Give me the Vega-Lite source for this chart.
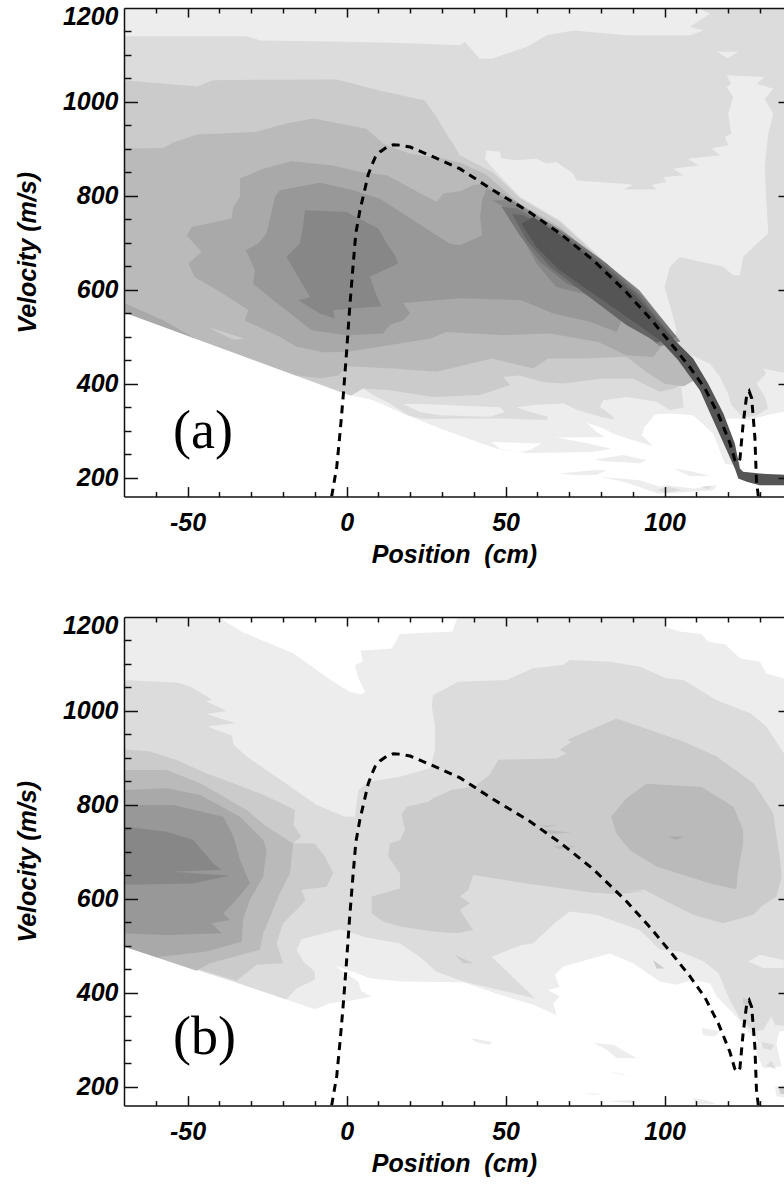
{"$schema":"https://vega.github.io/schema/vega-lite/v6.json","background":"white","padding":{"left":15,"top":4,"right":0,"bottom":0},"spacing":45,"config":{"view":{"stroke":null},"axis":{"labelFont":"Liberation Sans","labelFontStyle":"italic","labelFontWeight":"bold","labelFontSize":25,"labelColor":"black","titleFont":"Liberation Sans","titleFontStyle":"italic","titleFontWeight":"bold","titleFontSize":25,"titleColor":"black","grid":false,"tickColor":"#111","tickWidth":1.5,"domainColor":"#111","domainWidth":1.5,"labelOverlap":false}},
"datasets":{
"axisrow":[{"x":0,"v":1200}],
"curve":[{"x":-4.7,"v":160},{"x":-3.1,"v":223},{"x":-2,"v":300},{"x":-1,"v":379},{"x":0,"v":468},{"x":1,"v":564},{"x":1.9,"v":640},{"x":2.9,"v":720},{"x":4.2,"v":769.5},{"x":5.8,"v":815.6},{"x":6.8,"v":845},{"x":7.9,"v":865},{"x":9,"v":882},{"x":10.5,"v":893.6},{"x":12.5,"v":903},{"x":14.7,"v":909},{"x":17,"v":908},{"x":20,"v":904},{"x":27.3,"v":883},{"x":35.6,"v":858},{"x":46.1,"v":812},{"x":57,"v":768},{"x":67.1,"v":720},{"x":77.6,"v":663},{"x":88,"v":595},{"x":96,"v":535},{"x":102.7,"v":480},{"x":108,"v":435},{"x":112.7,"v":390},{"x":116.9,"v":335},{"x":120.5,"v":275},{"x":122.1,"v":238},{"x":123,"v":232},{"x":123.7,"v":240},{"x":124.7,"v":314},{"x":125.8,"v":374.5},{"x":126.6,"v":384},{"x":127.4,"v":369.5},{"x":128.4,"v":286},{"x":128.9,"v":194},{"x":129.5,"v":160}],
"a":[
{"p":1,"c":1,"x":-70,"v":1200},{"p":1,"c":1,"x":140,"v":1200},{"p":1,"c":1,"x":140,"v":344},{"p":1,"c":1,"x":132,"v":333},{"p":1,"c":1,"x":126.8,"v":323},{"p":1,"c":1,"x":122.6,"v":326},{"p":1,"c":1,"x":119,"v":325},{"p":1,"c":1,"x":124,"v":225},{"p":1,"c":1,"x":119,"v":230},{"p":1,"c":1,"x":115.3,"v":294},{"p":1,"c":1,"x":109,"v":333},{"p":1,"c":1,"x":101.7,"v":337},{"p":1,"c":1,"x":97,"v":335},{"p":1,"c":1,"x":93.8,"v":308.5},{"p":1,"c":1,"x":92.8,"v":291},{"p":1,"c":1,"x":96.4,"v":267},{"p":1,"c":1,"x":90.1,"v":280},{"p":1,"c":1,"x":83.9,"v":294},{"p":1,"c":1,"x":80.7,"v":305},{"p":1,"c":1,"x":75.5,"v":317},{"p":1,"c":1,"x":78.6,"v":298},{"p":1,"c":1,"x":81.2,"v":287},{"p":1,"c":1,"x":66,"v":286},{"p":1,"c":1,"x":73.4,"v":277},{"p":1,"c":1,"x":83.3,"v":262},{"p":1,"c":1,"x":77.6,"v":255},{"p":1,"c":1,"x":56.6,"v":253},{"p":1,"c":1,"x":47.2,"v":262},{"p":1,"c":1,"x":41.9,"v":274},{"p":1,"c":1,"x":29.3,"v":305},{"p":1,"c":1,"x":18.9,"v":333},{"p":1,"c":1,"x":8.4,"v":365},{"p":1,"c":1,"x":0,"v":378},{"p":1,"c":1,"x":-70,"v":550},
{"p":2,"c":2,"x":-70,"v":1140},{"p":2,"c":2,"x":-31.4,"v":1140},{"p":2,"c":2,"x":-27,"v":1131},{"p":2,"c":2,"x":0,"v":1128},{"p":2,"c":2,"x":20,"v":1125},{"p":2,"c":2,"x":35.6,"v":1120.6},{"p":2,"c":2,"x":37.2,"v":1127.7},{"p":2,"c":2,"x":41.9,"v":1092},{"p":2,"c":2,"x":45.6,"v":1092},{"p":2,"c":2,"x":48.7,"v":1099},{"p":2,"c":2,"x":56.6,"v":1117},{"p":2,"c":2,"x":62.9,"v":1142},{"p":2,"c":2,"x":71.3,"v":1152},{"p":2,"c":2,"x":88,"v":1142},{"p":2,"c":2,"x":108,"v":1142},{"p":2,"c":2,"x":112.2,"v":1152},{"p":2,"c":2,"x":108,"v":1160},{"p":2,"c":2,"x":114.3,"v":1188},{"p":2,"c":2,"x":111.6,"v":1196.5},{"p":2,"c":2,"x":112,"v":1200},{"p":2,"c":2,"x":140,"v":1200},{"p":2,"c":2,"x":140,"v":420},{"p":2,"c":2,"x":131,"v":432.6},{"p":2,"c":2,"x":132,"v":422},{"p":2,"c":2,"x":128.9,"v":400.7},{"p":2,"c":2,"x":131.6,"v":372},{"p":2,"c":2,"x":132.6,"v":347.5},{"p":2,"c":2,"x":128.9,"v":333},{"p":2,"c":2,"x":124.7,"v":328},{"p":2,"c":2,"x":121,"v":355},{"p":2,"c":2,"x":120,"v":379},{"p":2,"c":2,"x":117.4,"v":415},{"p":2,"c":2,"x":114.3,"v":443},{"p":2,"c":2,"x":108.5,"v":461},{"p":2,"c":2,"x":104,"v":470},{"p":2,"c":2,"x":106,"v":350},{"p":2,"c":2,"x":101.7,"v":344},{"p":2,"c":2,"x":97.5,"v":362},{"p":2,"c":2,"x":88,"v":372},{"p":2,"c":2,"x":80.7,"v":365},{"p":2,"c":2,"x":79.7,"v":351},{"p":2,"c":2,"x":83.9,"v":330},{"p":2,"c":2,"x":83.9,"v":324},{"p":2,"c":2,"x":79.7,"v":330},{"p":2,"c":2,"x":72.9,"v":344},{"p":2,"c":2,"x":68.1,"v":358},{"p":2,"c":2,"x":58.7,"v":355},{"p":2,"c":2,"x":53.5,"v":350},{"p":2,"c":2,"x":57.7,"v":340},{"p":2,"c":2,"x":63.4,"v":330},{"p":2,"c":2,"x":62.9,"v":323},{"p":2,"c":2,"x":50.3,"v":326},{"p":2,"c":2,"x":39.8,"v":326},{"p":2,"c":2,"x":24.1,"v":325},{"p":2,"c":2,"x":19.4,"v":333},{"p":2,"c":2,"x":13.6,"v":358},{"p":2,"c":2,"x":8.4,"v":376},{"p":2,"c":2,"x":5.2,"v":390},{"p":2,"c":2,"x":-70,"v":400},
{"p":3,"c":1,"x":44,"v":897},{"p":3,"c":1,"x":48.2,"v":894},{"p":3,"c":1,"x":48.7,"v":880},{"p":3,"c":1,"x":53.5,"v":876},{"p":3,"c":1,"x":59.7,"v":879},{"p":3,"c":1,"x":62.9,"v":869},{"p":3,"c":1,"x":66,"v":872},{"p":3,"c":1,"x":71.3,"v":847},{"p":3,"c":1,"x":72.3,"v":833},{"p":3,"c":1,"x":87,"v":826},{"p":3,"c":1,"x":90.1,"v":824},{"p":3,"c":1,"x":87,"v":813.5},{"p":3,"c":1,"x":97.5,"v":813.5},{"p":3,"c":1,"x":95.9,"v":823},{"p":3,"c":1,"x":100.6,"v":830},{"p":3,"c":1,"x":99.6,"v":840},{"p":3,"c":1,"x":105.9,"v":844},{"p":3,"c":1,"x":102.7,"v":858},{"p":3,"c":1,"x":110.6,"v":865},{"p":3,"c":1,"x":107.4,"v":879},{"p":3,"c":1,"x":117.4,"v":886.5},{"p":3,"c":1,"x":114.8,"v":901},{"p":3,"c":1,"x":120,"v":908},{"p":3,"c":1,"x":119,"v":925.5},{"p":3,"c":1,"x":121,"v":932.6},{"p":3,"c":1,"x":120,"v":975},{"p":3,"c":1,"x":121.6,"v":1010.6},{"p":3,"c":1,"x":119.5,"v":1032},{"p":3,"c":1,"x":121,"v":1039},{"p":3,"c":1,"x":119.5,"v":1057},{"p":3,"c":1,"x":131.5,"v":1053},{"p":3,"c":1,"x":129,"v":1039},{"p":3,"c":1,"x":134.2,"v":1028},{"p":3,"c":1,"x":131.5,"v":1007},{"p":3,"c":1,"x":134.2,"v":975},{"p":3,"c":1,"x":132.6,"v":933},{"p":3,"c":1,"x":131.5,"v":862},{"p":3,"c":1,"x":132,"v":791},{"p":3,"c":1,"x":132.6,"v":720},{"p":3,"c":1,"x":127.9,"v":691.5},{"p":3,"c":1,"x":124.7,"v":670},{"p":3,"c":1,"x":123.7,"v":631},{"p":3,"c":1,"x":121.6,"v":631},{"p":3,"c":1,"x":118.4,"v":649},{"p":3,"c":1,"x":104.8,"v":670},{"p":3,"c":1,"x":101.7,"v":649},{"p":3,"c":1,"x":100,"v":606},{"p":3,"c":1,"x":102.7,"v":543},{"p":3,"c":1,"x":103.8,"v":514},{"p":3,"c":1,"x":102.7,"v":493},{"p":3,"c":1,"x":90.1,"v":592},{"p":3,"c":1,"x":79.7,"v":670},{"p":3,"c":1,"x":67.1,"v":748},{"p":3,"c":1,"x":54.5,"v":798},{"p":3,"c":1,"x":46.1,"v":858},{"p":3,"c":1,"x":43.5,"v":879},
{"p":4,"c":1,"x":116.4,"v":1107},{"p":4,"c":1,"x":123.2,"v":1107},{"p":4,"c":1,"x":119.8,"v":1093},
{"p":5,"c":3,"x":-70,"v":1046},{"p":5,"c":3,"x":-47,"v":1033},{"p":5,"c":3,"x":-42,"v":1046},{"p":5,"c":3,"x":-27.3,"v":1047.5},{"p":5,"c":3,"x":-3,"v":1048},{"p":5,"c":3,"x":10,"v":1025},{"p":5,"c":3,"x":24.6,"v":1003},{"p":5,"c":3,"x":28.3,"v":968},{"p":5,"c":3,"x":32,"v":925.5},{"p":5,"c":3,"x":33.5,"v":911},{"p":5,"c":3,"x":35.6,"v":886.5},{"p":5,"c":3,"x":46,"v":850},{"p":5,"c":3,"x":54.5,"v":795},{"p":5,"c":3,"x":67,"v":745},{"p":5,"c":3,"x":80,"v":665},{"p":5,"c":3,"x":90,"v":590},{"p":5,"c":3,"x":102,"v":490},{"p":5,"c":3,"x":108,"v":440},{"p":5,"c":3,"x":112,"v":420},{"p":5,"c":3,"x":103,"v":390},{"p":5,"c":3,"x":98.5,"v":383},{"p":5,"c":3,"x":90.1,"v":411},{"p":5,"c":3,"x":79.7,"v":411},{"p":5,"c":3,"x":68.1,"v":401},{"p":5,"c":3,"x":61.8,"v":404},{"p":5,"c":3,"x":54.5,"v":418},{"p":5,"c":3,"x":49.3,"v":415},{"p":5,"c":3,"x":51.4,"v":397},{"p":5,"c":3,"x":48.2,"v":390},{"p":5,"c":3,"x":41.9,"v":376},{"p":5,"c":3,"x":27.3,"v":372},{"p":5,"c":3,"x":13.6,"v":386.5},{"p":5,"c":3,"x":5.2,"v":390},{"p":5,"c":3,"x":0,"v":370},{"p":5,"c":3,"x":-70,"v":520},
{"p":6,"c":4,"x":-70,"v":900.7},{"p":6,"c":4,"x":-57.7,"v":902},{"p":6,"c":4,"x":-54.7,"v":913},{"p":6,"c":4,"x":-47,"v":931},{"p":6,"c":4,"x":-28.8,"v":936},{"p":6,"c":4,"x":-18.9,"v":954},{"p":6,"c":4,"x":-10.5,"v":965},{"p":6,"c":4,"x":6.3,"v":943},{"p":6,"c":4,"x":11.5,"v":911},{"p":6,"c":4,"x":20,"v":890},{"p":6,"c":4,"x":30,"v":880},{"p":6,"c":4,"x":36,"v":870},{"p":6,"c":4,"x":44,"v":845},{"p":6,"c":4,"x":54,"v":785},{"p":6,"c":4,"x":67,"v":735},{"p":6,"c":4,"x":80,"v":655},{"p":6,"c":4,"x":90,"v":580},{"p":6,"c":4,"x":102,"v":480},{"p":6,"c":4,"x":110,"v":410},{"p":6,"c":4,"x":106,"v":395},{"p":6,"c":4,"x":100,"v":400},{"p":6,"c":4,"x":94.3,"v":425},{"p":6,"c":4,"x":88,"v":457.5},{"p":6,"c":4,"x":74.4,"v":454},{"p":6,"c":4,"x":63.4,"v":454},{"p":6,"c":4,"x":58.7,"v":432.6},{"p":6,"c":4,"x":45.6,"v":454},{"p":6,"c":4,"x":34.6,"v":436},{"p":6,"c":4,"x":28.3,"v":425.5},{"p":6,"c":4,"x":14.7,"v":432.6},{"p":6,"c":4,"x":0,"v":437.6},{"p":6,"c":4,"x":-2.6,"v":418},{"p":6,"c":4,"x":-8,"v":412},{"p":6,"c":4,"x":-16,"v":418},{"p":6,"c":4,"x":-16,"v":400},{"p":6,"c":4,"x":-70,"v":500},
{"p":7,"c":3,"x":-43.5,"v":521},{"p":7,"c":3,"x":-39.8,"v":513},{"p":7,"c":3,"x":-32,"v":496},{"p":7,"c":3,"x":-35.6,"v":494},{"p":7,"c":3,"x":-39.8,"v":507},
{"p":8,"c":5,"x":-33.5,"v":837},{"p":8,"c":5,"x":-26.2,"v":858},{"p":8,"c":5,"x":-17.3,"v":874},{"p":8,"c":5,"x":-4.2,"v":865},{"p":8,"c":5,"x":4.2,"v":851},{"p":8,"c":5,"x":12.6,"v":844},{"p":8,"c":5,"x":28.3,"v":787},{"p":8,"c":5,"x":30.4,"v":805},{"p":8,"c":5,"x":35.6,"v":810},{"p":8,"c":5,"x":39.8,"v":823},{"p":8,"c":5,"x":43.5,"v":826},{"p":8,"c":5,"x":47.2,"v":812},{"p":8,"c":5,"x":53,"v":790},{"p":8,"c":5,"x":66,"v":730},{"p":8,"c":5,"x":80,"v":650},{"p":8,"c":5,"x":90,"v":575},{"p":8,"c":5,"x":100,"v":490},{"p":8,"c":5,"x":98,"v":471},{"p":8,"c":5,"x":96.4,"v":457},{"p":8,"c":5,"x":88,"v":461},{"p":8,"c":5,"x":79.1,"v":489},{"p":8,"c":5,"x":64,"v":507},{"p":8,"c":5,"x":49.3,"v":503.5},{"p":8,"c":5,"x":31.4,"v":510.6},{"p":8,"c":5,"x":26.2,"v":496},{"p":8,"c":5,"x":23,"v":493},{"p":8,"c":5,"x":0,"v":468},{"p":8,"c":5,"x":-7.3,"v":467},{"p":8,"c":5,"x":-15.7,"v":479},{"p":8,"c":5,"x":-21,"v":500},{"p":8,"c":5,"x":-32,"v":535},{"p":8,"c":5,"x":-30.9,"v":557},{"p":8,"c":5,"x":-39.8,"v":596},{"p":8,"c":5,"x":-47.7,"v":627},{"p":8,"c":5,"x":-49.8,"v":656},{"p":8,"c":5,"x":-45.6,"v":681},{"p":8,"c":5,"x":-50.3,"v":716},{"p":8,"c":5,"x":-48.7,"v":734},{"p":8,"c":5,"x":-36.2,"v":752},{"p":8,"c":5,"x":-35.6,"v":776.6},{"p":8,"c":5,"x":-33.5,"v":798},
{"p":9,"c":5,"x":-70,"v":572},{"p":9,"c":5,"x":-57.7,"v":535.5},{"p":9,"c":5,"x":-46.6,"v":493},{"p":9,"c":5,"x":-46.6,"v":480},{"p":9,"c":5,"x":-70,"v":540},
{"p":10,"c":6,"x":-22.5,"v":798},{"p":10,"c":6,"x":-21,"v":812},{"p":10,"c":6,"x":-8.4,"v":828},{"p":10,"c":6,"x":2.1,"v":812},{"p":10,"c":6,"x":10.5,"v":794},{"p":10,"c":6,"x":17.8,"v":762},{"p":10,"c":6,"x":26.7,"v":723},{"p":10,"c":6,"x":32.5,"v":698},{"p":10,"c":6,"x":35.6,"v":695},{"p":10,"c":6,"x":42.6,"v":716},{"p":10,"c":6,"x":42,"v":755},{"p":10,"c":6,"x":42.6,"v":791},{"p":10,"c":6,"x":44,"v":815},{"p":10,"c":6,"x":47,"v":808},{"p":10,"c":6,"x":53,"v":780},{"p":10,"c":6,"x":66,"v":720},{"p":10,"c":6,"x":80,"v":640},{"p":10,"c":6,"x":90,"v":565},{"p":10,"c":6,"x":97,"v":505},{"p":10,"c":6,"x":90,"v":530},{"p":10,"c":6,"x":86.5,"v":535},{"p":10,"c":6,"x":84.9,"v":510.6},{"p":10,"c":6,"x":76.5,"v":532},{"p":10,"c":6,"x":65,"v":550},{"p":10,"c":6,"x":55,"v":578},{"p":10,"c":6,"x":35.6,"v":582},{"p":10,"c":6,"x":17.8,"v":572},{"p":10,"c":6,"x":20,"v":550},{"p":10,"c":6,"x":17.8,"v":535.5},{"p":10,"c":6,"x":13.6,"v":525},{"p":10,"c":6,"x":11.5,"v":507},{"p":10,"c":6,"x":0,"v":503.5},{"p":10,"c":6,"x":-11,"v":514},{"p":10,"c":6,"x":-23,"v":578},{"p":10,"c":6,"x":-29.4,"v":613},{"p":10,"c":6,"x":-28.8,"v":642},{"p":10,"c":6,"x":-31.7,"v":684.4},{"p":10,"c":6,"x":-27.8,"v":698.6},{"p":10,"c":6,"x":-25.2,"v":720},
{"p":11,"c":7,"x":-13.1,"v":769.5},{"p":11,"c":7,"x":0,"v":766},{"p":11,"c":7,"x":10,"v":730.5},{"p":11,"c":7,"x":12.6,"v":698.6},{"p":11,"c":7,"x":15.2,"v":674},{"p":11,"c":7,"x":16.2,"v":656},{"p":11,"c":7,"x":7.3,"v":628},{"p":11,"c":7,"x":9.4,"v":588.7},{"p":11,"c":7,"x":11,"v":565},{"p":11,"c":7,"x":-4.2,"v":557},{"p":11,"c":7,"x":-3.7,"v":539},{"p":11,"c":7,"x":-8.4,"v":550},{"p":11,"c":7,"x":-15.2,"v":578},{"p":11,"c":7,"x":-11.5,"v":585},{"p":11,"c":7,"x":-18.9,"v":670},{"p":11,"c":7,"x":-14.7,"v":698.6},{"p":11,"c":7,"x":-13.6,"v":741},
{"p":12,"c":7,"x":45.6,"v":791},{"p":12,"c":7,"x":48.7,"v":780},{"p":12,"c":7,"x":54,"v":727},{"p":12,"c":7,"x":59.7,"v":656},{"p":12,"c":7,"x":66,"v":606},{"p":12,"c":7,"x":74.4,"v":592},{"p":12,"c":7,"x":83.9,"v":564},{"p":12,"c":7,"x":90,"v":528},{"p":12,"c":7,"x":98.5,"v":480},{"p":12,"c":7,"x":105,"v":490},{"p":12,"c":7,"x":92,"v":600},{"p":12,"c":7,"x":80,"v":665},{"p":12,"c":7,"x":68,"v":725},{"p":12,"c":7,"x":52,"v":790},
{"p":13,"c":8,"x":48.7,"v":777},{"p":13,"c":8,"x":54.5,"v":716},{"p":13,"c":8,"x":60.8,"v":659.6},{"p":13,"c":8,"x":69.2,"v":613.5},{"p":13,"c":8,"x":81.8,"v":578},{"p":13,"c":8,"x":90,"v":528},{"p":13,"c":8,"x":97.5,"v":486},{"p":13,"c":8,"x":103.8,"v":500},{"p":13,"c":8,"x":92.2,"v":592},{"p":13,"c":8,"x":81.8,"v":656},{"p":13,"c":8,"x":70,"v":713},{"p":13,"c":8,"x":53.5,"v":773},
{"p":14,"c":9,"x":52,"v":762},{"p":14,"c":9,"x":56.6,"v":706},{"p":14,"c":9,"x":64,"v":649},{"p":14,"c":9,"x":75.5,"v":589},{"p":14,"c":9,"x":88,"v":525},{"p":14,"c":9,"x":97.5,"v":489},{"p":14,"c":9,"x":103,"v":496},{"p":14,"c":9,"x":91.7,"v":589},{"p":14,"c":9,"x":81.2,"v":652.5},{"p":14,"c":9,"x":69.7,"v":709},{"p":14,"c":9,"x":55.6,"v":759},
{"p":15,"c":10,"x":55,"v":741},{"p":15,"c":10,"x":59.7,"v":691.5},{"p":15,"c":10,"x":67,"v":642},{"p":15,"c":10,"x":77.6,"v":592},{"p":15,"c":10,"x":88,"v":542.6},{"p":15,"c":10,"x":98.5,"v":493},{"p":15,"c":10,"x":104.3,"v":450},{"p":15,"c":10,"x":111.1,"v":386.5},{"p":15,"c":10,"x":115.3,"v":322.7},{"p":15,"c":10,"x":119.5,"v":259},{"p":15,"c":10,"x":122.1,"v":220},{"p":15,"c":10,"x":123.2,"v":198.6},{"p":15,"c":10,"x":125.8,"v":191.5},{"p":15,"c":10,"x":129.9,"v":184.4},{"p":15,"c":10,"x":140,"v":184},{"p":15,"c":10,"x":140,"v":206},{"p":15,"c":10,"x":130,"v":209},{"p":15,"c":10,"x":124.7,"v":212.8},{"p":15,"c":10,"x":123.7,"v":220},{"p":15,"c":10,"x":122.1,"v":273},{"p":15,"c":10,"x":118.5,"v":337},{"p":15,"c":10,"x":113.7,"v":400.7},{"p":15,"c":10,"x":109,"v":454},{"p":15,"c":10,"x":102.7,"v":496},{"p":15,"c":10,"x":91.2,"v":585},{"p":15,"c":10,"x":80.7,"v":649},{"p":15,"c":10,"x":69.2,"v":706},{"p":15,"c":10,"x":58.7,"v":755},
{"p":16,"c":0,"x":-70,"v":552},{"p":16,"c":0,"x":0,"v":378},{"p":16,"c":0,"x":18.9,"v":333},{"p":16,"c":0,"x":29.3,"v":305},{"p":16,"c":0,"x":41.9,"v":274},{"p":16,"c":0,"x":47.2,"v":262},{"p":16,"c":0,"x":47.2,"v":160},{"p":16,"c":0,"x":-70,"v":160},
{"p":17,"c":1,"x":17.8,"v":357},{"p":17,"c":1,"x":24.1,"v":357},{"p":17,"c":1,"x":48.2,"v":350},{"p":17,"c":1,"x":49.8,"v":340},{"p":17,"c":1,"x":45,"v":330},{"p":17,"c":1,"x":29.3,"v":333},{"p":17,"c":1,"x":23,"v":340},
{"p":18,"c":2,"x":61.3,"v":385},{"p":18,"c":2,"x":69.2,"v":376},{"p":18,"c":2,"x":67,"v":363},{"p":18,"c":2,"x":62.9,"v":376},
{"p":19,"c":0,"x":45.6,"v":276},{"p":19,"c":0,"x":61.3,"v":273},{"p":19,"c":0,"x":57.7,"v":259},{"p":19,"c":0,"x":54.5,"v":255},{"p":19,"c":0,"x":48.2,"v":262},
{"p":20,"c":1,"x":78.1,"v":239},{"p":20,"c":1,"x":87,"v":248.5},{"p":20,"c":1,"x":94.3,"v":238},{"p":20,"c":1,"x":92.2,"v":231},{"p":20,"c":1,"x":80.7,"v":235},
{"p":21,"c":1,"x":67,"v":209},{"p":21,"c":1,"x":77.6,"v":216},{"p":21,"c":1,"x":81.8,"v":216},{"p":21,"c":1,"x":78.6,"v":206},{"p":21,"c":1,"x":71.3,"v":206},
{"p":22,"c":1,"x":79.7,"v":202},{"p":22,"c":1,"x":92.2,"v":195},{"p":22,"c":1,"x":101.7,"v":174},{"p":22,"c":1,"x":96.4,"v":170},{"p":22,"c":1,"x":88,"v":190},
{"p":23,"c":1,"x":95.4,"v":177},{"p":23,"c":1,"x":100.6,"v":184},{"p":23,"c":1,"x":109,"v":177},{"p":23,"c":1,"x":116.4,"v":184},{"p":23,"c":1,"x":115.3,"v":173.6},{"p":23,"c":1,"x":103.8,"v":168},{"p":23,"c":1,"x":97.5,"v":166.7},
{"p":24,"c":2,"x":97.5,"v":174},{"p":24,"c":2,"x":101,"v":181},{"p":24,"c":2,"x":105.3,"v":174},{"p":24,"c":2,"x":100.6,"v":168},
{"p":25,"c":2,"x":111.6,"v":181},{"p":25,"c":2,"x":114.8,"v":183},{"p":25,"c":2,"x":113.7,"v":175},
{"p":26,"c":1,"x":102.7,"v":220},{"p":26,"c":1,"x":109,"v":213},{"p":26,"c":1,"x":114.3,"v":204},{"p":26,"c":1,"x":108,"v":204}
],
"b":[
{"p":1,"c":1,"x":-70,"v":1200},{"p":1,"c":1,"x":140,"v":1200},{"p":1,"c":1,"x":140,"v":318},{"p":1,"c":1,"x":136.2,"v":318},{"p":1,"c":1,"x":135.2,"v":293},{"p":1,"c":1,"x":132,"v":282},{"p":1,"c":1,"x":130,"v":293},{"p":1,"c":1,"x":126.8,"v":314},{"p":1,"c":1,"x":121.6,"v":356.7},{"p":1,"c":1,"x":116.4,"v":392},{"p":1,"c":1,"x":114.3,"v":420.6},{"p":1,"c":1,"x":109,"v":427.7},{"p":1,"c":1,"x":103.8,"v":417},{"p":1,"c":1,"x":98.5,"v":424},{"p":1,"c":1,"x":90.1,"v":463},{"p":1,"c":1,"x":82.8,"v":484},{"p":1,"c":1,"x":68.1,"v":456},{"p":1,"c":1,"x":65.5,"v":438},{"p":1,"c":1,"x":67,"v":412},{"p":1,"c":1,"x":63.4,"v":406},{"p":1,"c":1,"x":67,"v":392},{"p":1,"c":1,"x":65,"v":378},{"p":1,"c":1,"x":66,"v":353},{"p":1,"c":1,"x":58.7,"v":374.5},{"p":1,"c":1,"x":48.2,"v":396},{"p":1,"c":1,"x":36.7,"v":422.7},{"p":1,"c":1,"x":16.8,"v":424},{"p":1,"c":1,"x":7.3,"v":431},{"p":1,"c":1,"x":2,"v":445},{"p":1,"c":1,"x":-3.7,"v":458},{"p":1,"c":1,"x":-1,"v":445},{"p":1,"c":1,"x":3.7,"v":424},{"p":1,"c":1,"x":4.7,"v":403},{"p":1,"c":1,"x":7.9,"v":392},{"p":1,"c":1,"x":0,"v":381.6},{"p":1,"c":1,"x":-5.2,"v":378},{"p":1,"c":1,"x":-10,"v":365},{"p":1,"c":1,"x":-35.6,"v":424},{"p":1,"c":1,"x":-70,"v":498.6},
{"p":2,"c":0,"x":-39.5,"v":1200},{"p":2,"c":0,"x":-39.3,"v":1195},{"p":2,"c":0,"x":-32.5,"v":1167},{"p":2,"c":0,"x":-16.8,"v":1123},{"p":2,"c":0,"x":-4.2,"v":1062},{"p":2,"c":0,"x":1,"v":1041},{"p":2,"c":0,"x":4.7,"v":1035},{"p":2,"c":0,"x":5.8,"v":1041},{"p":2,"c":0,"x":3.7,"v":1069.5},{"p":2,"c":0,"x":2.6,"v":1098},{"p":2,"c":0,"x":5.2,"v":1105},{"p":2,"c":0,"x":4.4,"v":1128},{"p":2,"c":0,"x":14.2,"v":1133},{"p":2,"c":0,"x":16.8,"v":1164},{"p":2,"c":0,"x":33.3,"v":1169},{"p":2,"c":0,"x":34.6,"v":1194},{"p":2,"c":0,"x":35.6,"v":1200},
{"p":3,"c":0,"x":100,"v":1200},{"p":3,"c":0,"x":100,"v":1179},{"p":3,"c":0,"x":104.8,"v":1169},{"p":3,"c":0,"x":111.6,"v":1164},{"p":3,"c":0,"x":113.7,"v":1147.5},{"p":3,"c":0,"x":119,"v":1142},{"p":3,"c":0,"x":123.7,"v":1112},{"p":3,"c":0,"x":130,"v":1105},{"p":3,"c":0,"x":132,"v":1080},{"p":3,"c":0,"x":137.3,"v":1069.5},{"p":3,"c":0,"x":140,"v":1060},{"p":3,"c":0,"x":140,"v":1200},
{"p":4,"c":2,"x":-70,"v":1066},{"p":4,"c":2,"x":-53,"v":1060},{"p":4,"c":2,"x":-49.3,"v":1052},{"p":4,"c":2,"x":-42.4,"v":1025},{"p":4,"c":2,"x":-44,"v":1020},{"p":4,"c":2,"x":-37.7,"v":1000},{"p":4,"c":2,"x":-44,"v":993.6},{"p":4,"c":2,"x":-35,"v":974},{"p":4,"c":2,"x":-43.9,"v":966.7},{"p":4,"c":2,"x":-36,"v":947},{"p":4,"c":2,"x":-35.6,"v":928},{"p":4,"c":2,"x":-31.4,"v":903},{"p":4,"c":2,"x":-20,"v":850},{"p":4,"c":2,"x":-9.4,"v":800},{"p":4,"c":2,"x":-0.5,"v":775},{"p":4,"c":2,"x":2.6,"v":775},{"p":4,"c":2,"x":3.7,"v":832},{"p":4,"c":2,"x":7.3,"v":850},{"p":4,"c":2,"x":16.8,"v":860},{"p":4,"c":2,"x":26.2,"v":878},{"p":4,"c":2,"x":27.8,"v":917},{"p":4,"c":2,"x":27.8,"v":967},{"p":4,"c":2,"x":26.8,"v":1009},{"p":4,"c":2,"x":27.2,"v":1034},{"p":4,"c":2,"x":30.4,"v":1045},{"p":4,"c":2,"x":35,"v":1062},{"p":4,"c":2,"x":50.3,"v":1066},{"p":4,"c":2,"x":58.7,"v":1091},{"p":4,"c":2,"x":68,"v":1098},{"p":4,"c":2,"x":70.2,"v":1108.5},{"p":4,"c":2,"x":82.8,"v":1105},{"p":4,"c":2,"x":92.2,"v":1094},{"p":4,"c":2,"x":100.6,"v":1069.5},{"p":4,"c":2,"x":105.9,"v":1066},{"p":4,"c":2,"x":116.4,"v":1023},{"p":4,"c":2,"x":127,"v":995},{"p":4,"c":2,"x":132,"v":967},{"p":4,"c":2,"x":137.5,"v":910},{"p":4,"c":2,"x":140,"v":900},{"p":4,"c":2,"x":140,"v":328},{"p":4,"c":2,"x":134.7,"v":332},{"p":4,"c":2,"x":133.6,"v":350},{"p":4,"c":2,"x":131,"v":321},{"p":4,"c":2,"x":127.9,"v":318},{"p":4,"c":2,"x":123.7,"v":346},{"p":4,"c":2,"x":120.5,"v":385},{"p":4,"c":2,"x":116.9,"v":442},{"p":4,"c":2,"x":112.2,"v":467},{"p":4,"c":2,"x":104.8,"v":488},{"p":4,"c":2,"x":98.5,"v":491.5},{"p":4,"c":2,"x":92.2,"v":534},{"p":4,"c":2,"x":78.6,"v":566},{"p":4,"c":2,"x":70.2,"v":573},{"p":4,"c":2,"x":66,"v":552},{"p":4,"c":2,"x":58.7,"v":505.7},{"p":4,"c":2,"x":55,"v":502},{"p":4,"c":2,"x":45.6,"v":477},{"p":4,"c":2,"x":59.2,"v":388.7},{"p":4,"c":2,"x":36.7,"v":424},{"p":4,"c":2,"x":28.3,"v":445},{"p":4,"c":2,"x":23,"v":477},{"p":4,"c":2,"x":16.8,"v":505},{"p":4,"c":2,"x":6.3,"v":518},{"p":4,"c":2,"x":-2.1,"v":535.5},{"p":4,"c":2,"x":-14.2,"v":514},{"p":4,"c":2,"x":-15.7,"v":491.5},{"p":4,"c":2,"x":-13.6,"v":466.7},{"p":4,"c":2,"x":-10,"v":445},{"p":4,"c":2,"x":-10,"v":427.7},{"p":4,"c":2,"x":-15.7,"v":410},{"p":4,"c":2,"x":-19,"v":386},{"p":4,"c":2,"x":-35.6,"v":424},{"p":4,"c":2,"x":-70,"v":498.6},
{"p":5,"c":3,"x":-70,"v":918.4},{"p":5,"c":3,"x":-61.8,"v":913.5},{"p":5,"c":3,"x":-53.5,"v":895.7},{"p":5,"c":3,"x":-44,"v":867},{"p":5,"c":3,"x":-35.6,"v":846},{"p":5,"c":3,"x":-26,"v":821},{"p":5,"c":3,"x":-16.2,"v":789},{"p":5,"c":3,"x":-16.7,"v":757},{"p":5,"c":3,"x":-14.2,"v":732.6},{"p":5,"c":3,"x":-16.8,"v":718.4},{"p":5,"c":3,"x":-10,"v":718},{"p":5,"c":3,"x":-6.8,"v":690},{"p":5,"c":3,"x":-4.2,"v":654.6},{"p":5,"c":3,"x":-6.3,"v":626},{"p":5,"c":3,"x":-14.2,"v":619},{"p":5,"c":3,"x":-13,"v":598},{"p":5,"c":3,"x":-14.2,"v":587},{"p":5,"c":3,"x":-20,"v":548},{"p":5,"c":3,"x":-22,"v":505.7},{"p":5,"c":3,"x":-20,"v":463},{"p":5,"c":3,"x":-28.3,"v":460},{"p":5,"c":3,"x":-34.6,"v":426},{"p":5,"c":3,"x":-70,"v":498.6},
{"p":6,"c":4,"x":-70,"v":874.5},{"p":6,"c":4,"x":-56.6,"v":874.5},{"p":6,"c":4,"x":-46,"v":846},{"p":6,"c":4,"x":-31.4,"v":789},{"p":6,"c":4,"x":-25.2,"v":754},{"p":6,"c":4,"x":-16.8,"v":718},{"p":6,"c":4,"x":-17.8,"v":654.6},{"p":6,"c":4,"x":-21,"v":612},{"p":6,"c":4,"x":-26.2,"v":527},{"p":6,"c":4,"x":-27.3,"v":491.5},{"p":6,"c":4,"x":-43,"v":463},{"p":6,"c":4,"x":-47.2,"v":447},{"p":6,"c":4,"x":-70,"v":498.6},
{"p":7,"c":5,"x":-70,"v":832},{"p":7,"c":5,"x":-56.6,"v":835.5},{"p":7,"c":5,"x":-46,"v":821},{"p":7,"c":5,"x":-33.5,"v":775},{"p":7,"c":5,"x":-26.2,"v":725.5},{"p":7,"c":5,"x":-25.2,"v":704},{"p":7,"c":5,"x":-26.2,"v":647.5},{"p":7,"c":5,"x":-30.4,"v":598},{"p":7,"c":5,"x":-32.5,"v":557},{"p":7,"c":5,"x":-33,"v":509},{"p":7,"c":5,"x":-44,"v":488},{"p":7,"c":5,"x":-59.7,"v":476},{"p":7,"c":5,"x":-70,"v":498.6},
{"p":8,"c":6,"x":-70,"v":800},{"p":8,"c":6,"x":-54.5,"v":800},{"p":8,"c":6,"x":-38.8,"v":775},{"p":8,"c":6,"x":-35.6,"v":733},{"p":8,"c":6,"x":-33.5,"v":683},{"p":8,"c":6,"x":-30.4,"v":633},{"p":8,"c":6,"x":-35.6,"v":591},{"p":8,"c":6,"x":-38.8,"v":569.5},{"p":8,"c":6,"x":-36.7,"v":555},{"p":8,"c":6,"x":-42.5,"v":548},{"p":8,"c":6,"x":-39.3,"v":527},{"p":8,"c":6,"x":-56.6,"v":523},{"p":8,"c":6,"x":-70,"v":527},
{"p":9,"c":7,"x":-70,"v":754},{"p":9,"c":7,"x":-56.6,"v":743},{"p":9,"c":7,"x":-48.2,"v":725.5},{"p":9,"c":7,"x":-42,"v":676},{"p":9,"c":7,"x":-39.3,"v":662},{"p":9,"c":7,"x":-54.5,"v":658},{"p":9,"c":7,"x":-36.7,"v":649},{"p":9,"c":7,"x":-48.7,"v":633},{"p":9,"c":7,"x":-70,"v":630},
{"p":10,"c":3,"x":18.9,"v":796},{"p":10,"c":3,"x":25.7,"v":807},{"p":10,"c":3,"x":27.2,"v":814},{"p":10,"c":3,"x":33,"v":832},{"p":10,"c":3,"x":40.3,"v":839},{"p":10,"c":3,"x":45,"v":864},{"p":10,"c":3,"x":47.7,"v":896},{"p":10,"c":3,"x":66,"v":899},{"p":10,"c":3,"x":69.2,"v":910},{"p":10,"c":3,"x":67,"v":917},{"p":10,"c":3,"x":70.8,"v":935},{"p":10,"c":3,"x":69.2,"v":938},{"p":10,"c":3,"x":84.9,"v":984},{"p":10,"c":3,"x":92.2,"v":967},{"p":10,"c":3,"x":105.9,"v":935},{"p":10,"c":3,"x":116.4,"v":903},{"p":10,"c":3,"x":128,"v":846},{"p":10,"c":3,"x":130.5,"v":821},{"p":10,"c":3,"x":134.2,"v":782},{"p":10,"c":3,"x":135.2,"v":733},{"p":10,"c":3,"x":136.2,"v":690},{"p":10,"c":3,"x":136.8,"v":647.5},{"p":10,"c":3,"x":135.2,"v":605},{"p":10,"c":3,"x":130.5,"v":584},{"p":10,"c":3,"x":127.9,"v":566},{"p":10,"c":3,"x":118.4,"v":548},{"p":10,"c":3,"x":109,"v":566},{"p":10,"c":3,"x":99.6,"v":598},{"p":10,"c":3,"x":93.8,"v":619},{"p":10,"c":3,"x":77.6,"v":613},{"p":10,"c":3,"x":56.6,"v":633},{"p":10,"c":3,"x":39.8,"v":651},{"p":10,"c":3,"x":38.3,"v":619},{"p":10,"c":3,"x":35.6,"v":605},{"p":10,"c":3,"x":38.8,"v":591},{"p":10,"c":3,"x":35.6,"v":576.6},{"p":10,"c":3,"x":39.8,"v":534},{"p":10,"c":3,"x":34.6,"v":527},{"p":10,"c":3,"x":27.2,"v":530.5},{"p":10,"c":3,"x":16.8,"v":541},{"p":10,"c":3,"x":11.5,"v":552},{"p":10,"c":3,"x":7.9,"v":569.5},{"p":10,"c":3,"x":7.9,"v":605},{"p":10,"c":3,"x":16.8,"v":622},{"p":10,"c":3,"x":16.8,"v":654},{"p":10,"c":3,"x":13.1,"v":690},{"p":10,"c":3,"x":13.6,"v":718},{"p":10,"c":3,"x":16.8,"v":725},{"p":10,"c":3,"x":18.4,"v":747},{"p":10,"c":3,"x":17.3,"v":780},
{"p":11,"c":4,"x":94.3,"v":845},{"p":11,"c":4,"x":111.6,"v":838},{"p":11,"c":4,"x":121.6,"v":796.5},{"p":11,"c":4,"x":124.7,"v":747},{"p":11,"c":4,"x":124.7,"v":718},{"p":11,"c":4,"x":123,"v":655},{"p":11,"c":4,"x":122.6,"v":620.6},{"p":11,"c":4,"x":115.3,"v":631},{"p":11,"c":4,"x":103.8,"v":655},{"p":11,"c":4,"x":97.5,"v":669},{"p":11,"c":4,"x":89,"v":704},{"p":11,"c":4,"x":84.9,"v":739},{"p":11,"c":4,"x":83.2,"v":775},{"p":11,"c":4,"x":88,"v":814},
{"p":12,"c":5,"x":101.4,"v":732},{"p":12,"c":5,"x":106,"v":732},{"p":12,"c":5,"x":103.4,"v":726},
{"p":13,"c":4,"x":60.8,"v":756},{"p":13,"c":4,"x":67,"v":757},{"p":13,"c":4,"x":63,"v":753},
{"p":14,"c":4,"x":62.9,"v":747},{"p":14,"c":4,"x":70.8,"v":741},{"p":14,"c":4,"x":64,"v":738},
{"p":15,"c":4,"x":64.9,"v":712},{"p":15,"c":4,"x":72.9,"v":712},{"p":15,"c":4,"x":67,"v":706},
{"p":16,"c":3,"x":77,"v":614},{"p":16,"c":3,"x":85,"v":617},{"p":16,"c":3,"x":93.8,"v":616},{"p":16,"c":3,"x":85,"v":610},
{"p":17,"c":1,"x":126.3,"v":466.7},{"p":17,"c":1,"x":130,"v":481},{"p":17,"c":1,"x":137.5,"v":470},{"p":17,"c":1,"x":137.5,"v":453},{"p":17,"c":1,"x":131,"v":453},
{"p":18,"c":1,"x":39.3,"v":303.5},{"p":18,"c":1,"x":45.6,"v":296},{"p":18,"c":1,"x":45,"v":289},{"p":18,"c":1,"x":40.3,"v":296},
{"p":19,"c":1,"x":77.6,"v":293},{"p":19,"c":1,"x":83.9,"v":289.5},{"p":19,"c":1,"x":91.2,"v":261},{"p":19,"c":1,"x":85,"v":261},{"p":19,"c":1,"x":81.8,"v":279},
{"p":20,"c":1,"x":82.3,"v":232.6},{"p":20,"c":1,"x":89,"v":222},{"p":20,"c":1,"x":85.9,"v":229},
{"p":21,"c":3,"x":34,"v":481},{"p":21,"c":3,"x":39.8,"v":463},{"p":21,"c":3,"x":36.7,"v":463},
{"p":22,"c":3,"x":96.4,"v":470},{"p":22,"c":3,"x":100,"v":452},{"p":22,"c":3,"x":97.5,"v":452},
{"p":23,"c":1,"x":111.6,"v":325},{"p":23,"c":1,"x":117.4,"v":318},{"p":23,"c":1,"x":115.8,"v":307},{"p":23,"c":1,"x":112.2,"v":310},
{"p":24,"c":1,"x":129.5,"v":307},{"p":24,"c":1,"x":134.7,"v":307},{"p":24,"c":1,"x":136.8,"v":243},{"p":24,"c":1,"x":131,"v":240},{"p":24,"c":1,"x":128.9,"v":272},
{"p":25,"c":2,"x":130.5,"v":296},{"p":25,"c":2,"x":134.5,"v":289},{"p":25,"c":2,"x":133.5,"v":278},{"p":25,"c":2,"x":131,"v":282},
{"p":26,"c":2,"x":132,"v":245},{"p":26,"c":2,"x":135,"v":238},{"p":26,"c":2,"x":133.5,"v":256},
{"p":27,"c":1,"x":134.7,"v":200},{"p":27,"c":1,"x":140,"v":206},{"p":27,"c":1,"x":140,"v":174},{"p":27,"c":1,"x":135.2,"v":180},
{"p":28,"c":3,"x":136,"v":196},{"p":28,"c":3,"x":140,"v":198},{"p":28,"c":3,"x":140,"v":182},{"p":28,"c":3,"x":136.5,"v":185},
{"p":29,"c":1,"x":74.4,"v":186},{"p":29,"c":1,"x":80.7,"v":186},{"p":29,"c":1,"x":77.6,"v":183},
{"p":30,"c":1,"x":81.8,"v":169},{"p":30,"c":1,"x":90.1,"v":172},{"p":30,"c":1,"x":90.1,"v":165},
{"p":31,"c":1,"x":108.9,"v":176},{"p":31,"c":1,"x":113,"v":172},{"p":31,"c":1,"x":116.4,"v":163},{"p":31,"c":1,"x":110,"v":163},
{"p":32,"c":3,"x":124.7,"v":389},{"p":32,"c":3,"x":126.8,"v":385},{"p":32,"c":3,"x":126.3,"v":371},{"p":32,"c":3,"x":124.7,"v":378}
]},
"vconcat":[
{"width":660,"height":488.6,"layer":[
{"data":{"name":"a"},"mark":{"type":"line","clip":true,"stroke":"transparent","strokeWidth":0,"interpolate":"linear-closed"},"encoding":{"x":{"field":"x","type":"quantitative","scale":{"domain":[-70,137.56]},"axis":{"orient":"bottom","zindex":1,"values":[-50,0,50,100],"labelExpr":"''+datum.value","ticks":false,"labelPadding":14,"title":"Position\u00a0\u00a0(cm)","titlePadding":7,"domain":true}},"y":{"field":"v","type":"quantitative","scale":{"domain":[160,1200]},"axis":{"orient":"left","zindex":1,"values":[200,400,600,800,1000,1200],"labelExpr":"''+datum.value","ticks":false,"labelPadding":6,"title":"Velocity (m/s)","titlePadding":22,"domain":true,"labelOffset":{"condition":{"test":"datum.value==1200","value":8},"value":0}}},"fill":{"field":"c","type":"nominal","legend":null,"scale":{"domain":[0,1,2,3,4,5,6,7,8,9,10],"range":["#ffffff","#ededed","#dcdcdc","#cbcbcb","#bababa","#a9a9a9","#989898","#878787","#767676","#656565","#555555"]}},"detail":{"field":"p","type":"nominal"},"order":{"value":null}}},
{"data":{"name":"curve"},"mark":{"type":"line","clip":true,"color":"black","strokeWidth":3,"strokeDash":[8,6]},"encoding":{"x":{"field":"x","type":"quantitative","scale":{"domain":[-70,137.56]},"axis":{"orient":"top","zindex":1,"values":[-50,0,50,100],"ticks":false,"labels":false,"title":null,"domain":true}},"y":{"field":"v","type":"quantitative","scale":{"domain":[160,1200]},"axis":{"orient":"left","zindex":1,"offset":-13.5,"values":[200,400,600,800,1000],"tickSize":13.5,"labels":false,"title":null,"domain":false}},"order":{"value":null}}},
{"data":{"values":[{"x":-54.6,"v":264,"t":"(a)"}]},"mark":{"type":"text","font":"Liberation Serif","fontSize":54,"align":"left","baseline":"alphabetic","color":"black"},"encoding":{"x":{"field":"x","type":"quantitative","scale":{"domain":[-70,137.56]},"axis":{"orient":"bottom","zindex":1,"offset":-10,"values":[-50,0,50,100],"tickSize":10,"labels":false,"title":null,"domain":false}},"y":{"field":"v","type":"quantitative","scale":{"domain":[160,1200]},"axis":{"orient":"left","zindex":1,"offset":-7,"values":[250,300,350,450,500,550,650,700,750,850,900,950,1050,1100,1150],"tickSize":7,"labels":false,"title":null,"domain":false}},"text":{"field":"t"}}},
{"data":{"name":"axisrow"},"mark":{"type":"point","opacity":0},"encoding":{"x":{"field":"x","type":"quantitative","scale":{"domain":[-70,137.56]},"axis":{"orient":"top","zindex":1,"offset":-5,"values":[-60,-40,-30,-20,-10,10,20,30,40,60,70,80,90,110,120,130],"tickSize":5,"labels":false,"title":null,"domain":false}},"y":{"field":"v","type":"quantitative","scale":{"domain":[160,1200]},"axis":{"orient":"right","zindex":1,"offset":-6,"values":[200,400,600,800,1000],"tickSize":6,"labels":false,"title":null,"domain":false}}}},
{"data":{"name":"axisrow"},"mark":{"type":"point","opacity":0},"encoding":{"x":{"field":"x","type":"quantitative","scale":{"domain":[-70,137.56]},"axis":{"orient":"top","zindex":1,"offset":-9,"values":[-50,0,50,100],"tickSize":9,"labels":false,"title":null,"domain":false}},"y":{"field":"v","type":"quantitative","scale":{"domain":[160,1200]},"axis":null}}},
{"data":{"name":"axisrow"},"mark":{"type":"point","opacity":0},"encoding":{"x":{"field":"x","type":"quantitative","scale":{"domain":[-70,137.56]},"axis":{"orient":"bottom","zindex":1,"offset":-5,"values":[-60,-40,-30,-20,-10,10,20,30,40,60,70,80,90,110,120,130],"tickSize":5,"labels":false,"title":null,"domain":false}},"y":{"field":"v","type":"quantitative","scale":{"domain":[160,1200]},"axis":null}}}
],"resolve":{"axis":{"x":"independent","y":"independent"}}},
{"width":660,"height":488.6,"layer":[
{"data":{"name":"b"},"mark":{"type":"line","clip":true,"stroke":"transparent","strokeWidth":0,"interpolate":"linear-closed"},"encoding":{"x":{"field":"x","type":"quantitative","scale":{"domain":[-70,137.56]},"axis":{"orient":"bottom","zindex":1,"values":[-50,0,50,100],"labelExpr":"''+datum.value","ticks":false,"labelPadding":14,"title":"Position\u00a0\u00a0(cm)","titlePadding":7,"domain":true}},"y":{"field":"v","type":"quantitative","scale":{"domain":[160,1200]},"axis":{"orient":"left","zindex":1,"values":[200,400,600,800,1000,1200],"labelExpr":"''+datum.value","ticks":false,"labelPadding":6,"title":"Velocity (m/s)","titlePadding":22,"domain":true,"labelOffset":{"condition":{"test":"datum.value==1200","value":8},"value":0}}},"fill":{"field":"c","type":"nominal","legend":null,"scale":{"domain":[0,1,2,3,4,5,6,7,8,9,10],"range":["#ffffff","#ededed","#dcdcdc","#cbcbcb","#bababa","#a9a9a9","#989898","#878787","#767676","#656565","#555555"]}},"detail":{"field":"p","type":"nominal"},"order":{"value":null}}},
{"data":{"name":"curve"},"mark":{"type":"line","clip":true,"color":"black","strokeWidth":3,"strokeDash":[8,6]},"encoding":{"x":{"field":"x","type":"quantitative","scale":{"domain":[-70,137.56]},"axis":{"orient":"top","zindex":1,"values":[-50,0,50,100],"ticks":false,"labels":false,"title":null,"domain":true}},"y":{"field":"v","type":"quantitative","scale":{"domain":[160,1200]},"axis":{"orient":"left","zindex":1,"offset":-13.5,"values":[200,400,600,800,1000],"tickSize":13.5,"labels":false,"title":null,"domain":false}},"order":{"value":null}}},
{"data":{"values":[{"x":-54.6,"v":270,"t":"(b)"}]},"mark":{"type":"text","font":"Liberation Serif","fontSize":54,"align":"left","baseline":"alphabetic","color":"black"},"encoding":{"x":{"field":"x","type":"quantitative","scale":{"domain":[-70,137.56]},"axis":{"orient":"bottom","zindex":1,"offset":-10,"values":[-50,0,50,100],"tickSize":10,"labels":false,"title":null,"domain":false}},"y":{"field":"v","type":"quantitative","scale":{"domain":[160,1200]},"axis":{"orient":"left","zindex":1,"offset":-7,"values":[250,300,350,450,500,550,650,700,750,850,900,950,1050,1100,1150],"tickSize":7,"labels":false,"title":null,"domain":false}},"text":{"field":"t"}}},
{"data":{"name":"axisrow"},"mark":{"type":"point","opacity":0},"encoding":{"x":{"field":"x","type":"quantitative","scale":{"domain":[-70,137.56]},"axis":{"orient":"top","zindex":1,"offset":-5,"values":[-60,-40,-30,-20,-10,10,20,30,40,60,70,80,90,110,120,130],"tickSize":5,"labels":false,"title":null,"domain":false}},"y":{"field":"v","type":"quantitative","scale":{"domain":[160,1200]},"axis":{"orient":"right","zindex":1,"offset":-6,"values":[200,400,600,800,1000],"tickSize":6,"labels":false,"title":null,"domain":false}}}},
{"data":{"name":"axisrow"},"mark":{"type":"point","opacity":0},"encoding":{"x":{"field":"x","type":"quantitative","scale":{"domain":[-70,137.56]},"axis":{"orient":"top","zindex":1,"offset":-9,"values":[-50,0,50,100],"tickSize":9,"labels":false,"title":null,"domain":false}},"y":{"field":"v","type":"quantitative","scale":{"domain":[160,1200]},"axis":null}}},
{"data":{"name":"axisrow"},"mark":{"type":"point","opacity":0},"encoding":{"x":{"field":"x","type":"quantitative","scale":{"domain":[-70,137.56]},"axis":{"orient":"bottom","zindex":1,"offset":-5,"values":[-60,-40,-30,-20,-10,10,20,30,40,60,70,80,90,110,120,130],"tickSize":5,"labels":false,"title":null,"domain":false}},"y":{"field":"v","type":"quantitative","scale":{"domain":[160,1200]},"axis":null}}}
],"resolve":{"axis":{"x":"independent","y":"independent"}}}
]}
